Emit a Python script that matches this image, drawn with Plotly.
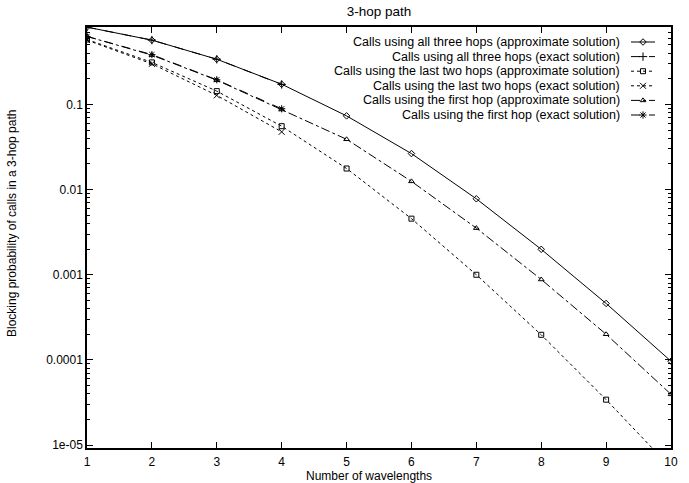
import plotly.graph_objects as go
import numpy as np

# ---- data ----
wavelengths = [1, 2, 3, 4, 5, 6, 7, 8, 9, 10]
wavelengths_exact = [1, 2, 3, 4]
all_three_approx = [0.81, 0.57, 0.34, 0.173, 0.0735, 0.0265, 0.0078, 0.00199, 0.00046, 0.0000965]
all_three_exact = [0.81, 0.57, 0.34, 0.172]
last_two_approx = [0.58, 0.312, 0.1435, 0.0556, 0.0177, 0.00456, 0.001, 0.000197, 0.0000341, 0.0000054]
last_two_exact = [0.57, 0.30, 0.128, 0.0477]
first_hop_approx = [0.63, 0.38, 0.193, 0.0873, 0.039, 0.0125, 0.00353, 0.00088, 0.0002, 0.0000394]
first_hop_exact = [0.63, 0.385, 0.195, 0.089]

y_tick_vals = [0.1, 0.01, 0.001, 0.0001, 0.00001]
y_tick_text = ["0.1", "0.01", "0.001", "0.0001", "1e-05"]

series = [
    ("Calls using all three hops (approximate solution)", wavelengths, all_three_approx, "solid", "diamond-open", 5),
    ("Calls using all three hops (exact solution)", wavelengths_exact, all_three_exact, "dash", "cross-thin-open", 6),
    ("Calls using the last two hops (approximate solution)", wavelengths, last_two_approx, "dot", "square-open", 5),
    ("Calls using the last two hops (exact solution)", wavelengths_exact, last_two_exact, "dot", "x-thin-open", 6),
    ("Calls using the first hop (approximate solution)", wavelengths, first_hop_approx, "dashdot", "triangle-up-open", 5),
    ("Calls using the first hop (exact solution)", wavelengths_exact, first_hop_exact, "dash", "asterisk-open", 6),
]

FONT = "Liberation Sans, Arial, sans-serif"
W, H = 689, 483
ml, mr, mt, mb = 87, 18, 27, 35

fig = go.Figure()
for name, xs, ys, dash, sym, ms in series:
    fig.add_trace(go.Scatter(
        x=xs, y=ys, mode="lines+markers", name=name,
        line=dict(color="black", width=1, dash=dash),
        marker=dict(symbol=sym, size=ms, color="black", line=dict(color="black", width=1)),
        showlegend=False, cliponaxis=True,
    ))

# custom legend (text first, line sample on the right like gnuplot)
pw = W - ml - mr
ph = H - mt - mb
row0, rowstep = 42, 14.6
for i, (name, xs, ys, dash, sym, ms) in enumerate(series):
    ypx = row0 + i * rowstep
    yf = 1 - (ypx - mt) / ph
    fig.add_annotation(text=name, xref="paper", yref="paper",
                       x=(621 - ml) / pw, y=yf, xanchor="right", yanchor="middle", borderpad=0,
                       showarrow=False, font=dict(family=FONT, size=12.5, color="black"))
    x0, x1 = (631 - ml) / pw, (655 - ml) / pw
    fig.add_trace(go.Scatter(
        x=[x0, (x0 + x1) / 2, x1], y=[yf, yf, yf], xaxis="x2", yaxis="y2",
        mode="lines", line=dict(color="black", width=1, dash=dash),
        showlegend=False, hoverinfo="skip"))
    fig.add_trace(go.Scatter(
        x=[(x0 + x1) / 2], y=[yf], xaxis="x2", yaxis="y2",
        mode="markers", marker=dict(symbol=sym, size=ms, color="black", line=dict(color="black", width=1)),
        showlegend=False, hoverinfo="skip"))

# axis titles as annotations (positioned like the reference)
fig.add_annotation(text="Number of wavelengths", xref="paper", yref="paper",
                   x=(369 - ml) / pw, y=-(476 - (H - mb)) / ph, xanchor="center", yanchor="middle",
                   borderpad=0, showarrow=False, font=dict(family=FONT, size=12, color="black"))
fig.add_annotation(text="Blocking probability of calls in a 3-hop path", xref="paper", yref="paper",
                   x=-(ml - 12) / pw, y=1 - (223 - mt) / ph, xanchor="center", yanchor="middle",
                   textangle=-90, showarrow=False, font=dict(family=FONT, size=12, color="black"))

minor_vals = [k * 10.0 ** d for d in range(-5, 0) for k in range(2, 10)]

fig.update_layout(
    width=W, height=H,
    margin=dict(l=ml, r=mr, t=mt, b=mb),
    paper_bgcolor="white", plot_bgcolor="white",
    font=dict(family=FONT, size=12, color="black"),
    title=dict(text="3-hop path", x=(ml + pw / 2) / W, xanchor="center", y=1 - 11 / H, yanchor="middle",
               font=dict(family=FONT, size=13.5, color="black")),
    xaxis=dict(range=[1, 10], tickvals=wavelengths, ticks="inside", ticklen=6, tickcolor="black",
               showline=True, linecolor="black", linewidth=1.5, mirror="allticks", showgrid=False, zeroline=False,
               ticklabelstandoff=2, tickfont=dict(family=FONT, size=12)),
    yaxis=dict(type="log", range=[-5.035, -0.09], tickvals=y_tick_vals, ticktext=y_tick_text,
               ticks="inside", ticklen=6, tickcolor="black",
               minor=dict(tickvals=minor_vals, ticks="inside", ticklen=3, tickcolor="black", showgrid=False),
               showline=True, linecolor="black", linewidth=1.5, mirror="allticks", showgrid=False, zeroline=False,
               tickfont=dict(family=FONT, size=12)),
    xaxis2=dict(overlaying="x", range=[0, 1], visible=False),
    yaxis2=dict(overlaying="y", range=[0, 1], visible=False),
)

fig.write_html("out.html")
